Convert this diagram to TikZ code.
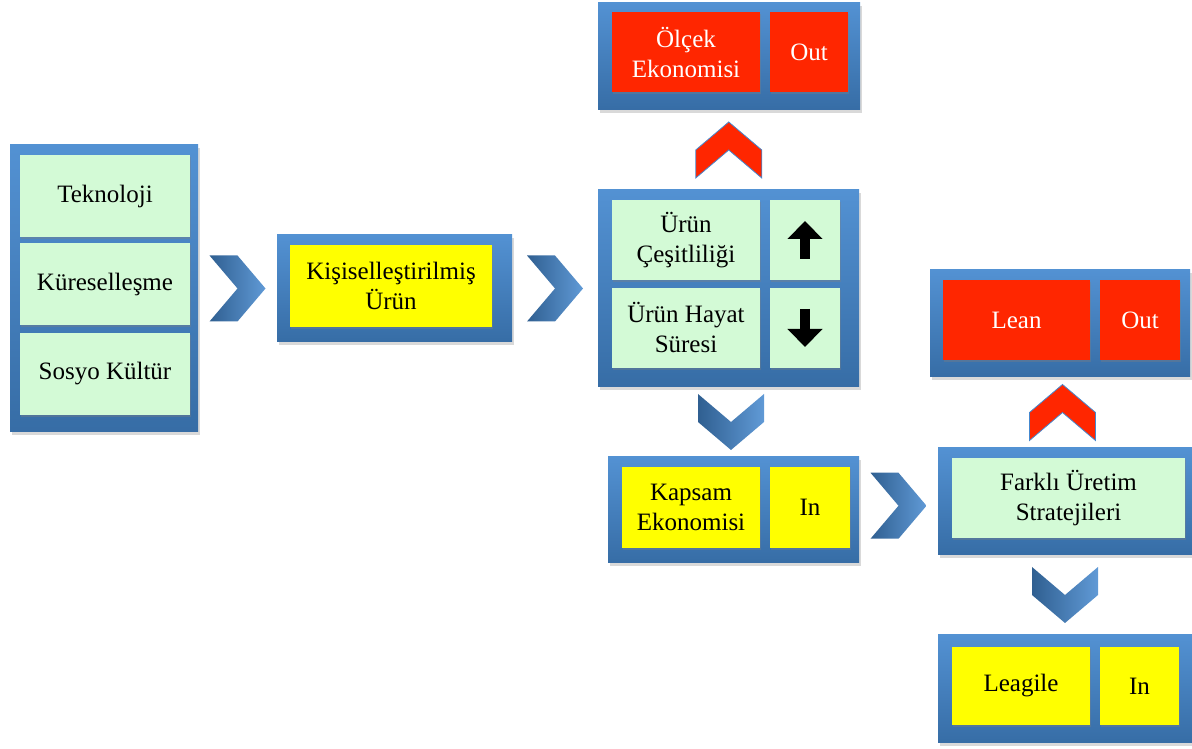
\documentclass[tikz,border=0pt]{standalone}
\usepackage{fontspec}
\setmainfont{Liberation Serif}
\usetikzlibrary{positioning, arrows.meta, calc, shadows}
\definecolor{frameblue}{RGB}{68,136,207}
\definecolor{softgreen}{RGB}{211,250,214}
\definecolor{brightyellow}{RGB}{255,255,0}
\definecolor{brightred}{RGB}{255,38,0}

\tikzset{
    bluechevron/.pic={
        \shade[left color=frameblue!70!black, right color=frameblue!85!white]
            (-28,33) -- (0,33) -- (28,0) -- (0,-33) -- (-28,-33) -- (0,0) -- cycle;
    },
    redchevron/.pic={
        \filldraw[fill=brightred, draw=frameblue, line width=0.8pt]
            (-28,33) -- (0,33) -- (28,0) -- (0,-33) -- (-28,-33) -- (0,0) -- cycle;
    }
}

\begin{document}
\begin{tikzpicture}[
    x=1pt, y=1pt,
    every node/.style={font=\fontsize{25}{30}\selectfont},
    frame/.style={
        rectangle,
        inner sep=0pt,
        top color=frameblue!92!white,
        bottom color=frameblue!80!black,
        drop shadow={shadow xshift=2pt, shadow yshift=-3pt, opacity=0.3}
    },
    greenbox/.style={
        rectangle,
        inner sep=0pt,
        align=center,
        fill=softgreen,
        drop shadow={shadow xshift=1pt, shadow yshift=-2pt, opacity=0.35}
    },
    yellowbox/.style={greenbox, fill=brightyellow},
    redbox/.style={greenbox, fill=brightred, text=white},
    bigarrow/.style={line width=10pt, -{Triangle[width=34pt, length=18pt]}}
]

\useasboundingbox (0,0) rectangle (1192,749);

% drivers
\node[frame, minimum width=188pt, minimum height=287pt] (drivers) at (104,460.5) {};
\node[greenbox, minimum width=170pt, minimum height=82pt] (tekno) at (105,553) {Teknoloji};
\node[greenbox, minimum width=170pt, minimum height=82pt] (kuresel) at (105,465) {Küreselleşme};
\node[greenbox, minimum width=170pt, minimum height=82pt] (sosyo) at (105,375) {Sosyo Kültür};

% customised product
\node[frame, minimum width=235pt, minimum height=107pt] (custom) at (394.5,460.5) {};
\node[yellowbox, minimum width=202pt, minimum height=82pt] (customtxt) at (391,463) {Kişiselleştirilmiş\\Ürün};

% economy of scale
\node[frame, minimum width=262pt, minimum height=107pt] (scaleframe) at (729,692.5) {};
\node[redbox, minimum width=148pt, minimum height=80pt] (scaletxt) at (686,696.5) {Ölçek\\Ekonomisi};
\node[redbox, minimum width=78pt, minimum height=80pt] (scaleout) at (809,696.5) {Out};

% variety and life cycle
\node[frame, minimum width=261pt, minimum height=197pt] (varframe) at (728.5,460.5) {};
\node[greenbox, minimum width=148pt, minimum height=80pt] (variety) at (686,509) {Ürün\\Çeşitliliği};
\node[greenbox, minimum width=70pt, minimum height=80pt] (varup) at (805,509) {};
\node[greenbox, minimum width=148pt, minimum height=80pt] (life) at (686,421) {Ürün Hayat\\Süresi};
\node[greenbox, minimum width=70pt, minimum height=80pt] (lifedown) at (805,421) {};
\draw[bigarrow] ([yshift=-19pt]varup.center) -- ([yshift=19pt]varup.center);
\draw[bigarrow] ([yshift=19pt]lifedown.center) -- ([yshift=-19pt]lifedown.center);

% economy of scope
\node[frame, minimum width=251pt, minimum height=106pt] (scopeframe) at (733.5,239) {};
\node[yellowbox, minimum width=138pt, minimum height=81pt] (scopetxt) at (691,241.5) {Kapsam\\Ekonomisi};
\node[yellowbox, minimum width=80pt, minimum height=81pt] (scopein) at (810,241.5) {In};

% strategies
\node[frame, minimum width=254pt, minimum height=107pt] (stratframe) at (1065,247.5) {};
\node[greenbox, minimum width=233pt, minimum height=80pt] (strattxt) at (1068.5,251) {Farklı Üretim\\Stratejileri};

\node[frame, minimum width=260pt, minimum height=107pt] (leanframe) at (1060,425.5) {};
\node[redbox, minimum width=147pt, minimum height=80pt] (leantxt) at (1016.5,429) {Lean};
\node[redbox, minimum width=80pt, minimum height=80pt] (leanout) at (1140,429) {Out};

\node[frame, minimum width=254pt, minimum height=108pt] (leagileframe) at (1065,60) {};
\node[yellowbox, minimum width=138pt, minimum height=78pt] (leagiletxt) at (1021,63) {Leagile};
\node[yellowbox, minimum width=79pt, minimum height=78pt] (leagilein) at (1139.5,63) {In};

% chevrons
\pic at ($(drivers.east)!0.5!(custom.west)$) {bluechevron};
\pic at ($(custom.east)!0.5!(varframe.west)$) {bluechevron};
\pic at ($(scopeframe.east)!0.5!(stratframe.west)$) {bluechevron};
\pic[rotate=90] at ($(varframe.north)!0.5!(scaleframe.south)$) {redchevron};
\pic[rotate=-90] at ($(varframe.south)!0.5!(scopeframe.north)$) {bluechevron};
\pic[rotate=90] at ($(stratframe.north)!0.5!(leanframe.south)$) {redchevron};
\pic[rotate=-90] at ($(stratframe.south)!0.5!(leagileframe.north)$) {bluechevron};

\end{tikzpicture}
\end{document}
